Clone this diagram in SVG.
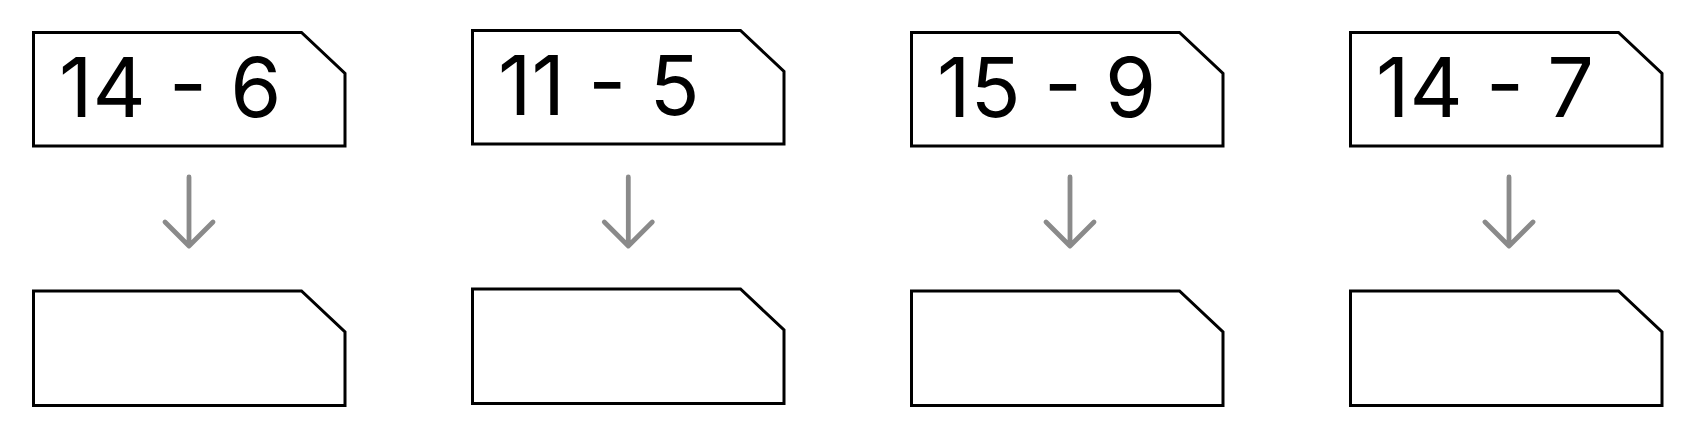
<svg xmlns="http://www.w3.org/2000/svg" width="1696" height="445" viewBox="0 0 1696 445">
<style>
.box{fill:#fff;stroke:#000;stroke-width:3;stroke-linejoin:miter}
.lbl{font-family:Inter,"Noto Sans",sans-serif;font-size:82.5px;fill:#000}
.arr{fill:none;stroke:#8a8a8a;stroke-width:4.8;stroke-linecap:round;stroke-linejoin:round}
</style>
<rect width="1696" height="445" fill="#fff"/>
<g id="q1">
<path class="box" d="M33.5 32.5H301.5L345 73.5V146H33.5Z"/>
<text class="lbl" x="59" y="117">14 - 6</text>
</g>
<g id="a1">
<path class="box" d="M33.5 291H301.5L345 332V405.5H33.5Z"/>
</g>
<g id="q2">
<path class="box" d="M472.5 30.5H740.5L784 71.5V144H472.5Z"/>
<text class="lbl" x="498" y="115.3">11 - 5</text>
</g>
<g id="a2">
<path class="box" d="M472.5 289H740.5L784 330V403.5H472.5Z"/>
</g>
<g id="q3">
<path class="box" d="M911.5 32.5H1179.5L1223 73.5V146H911.5Z"/>
<text class="lbl" x="937" y="117">15 - 9</text>
</g>
<g id="a3">
<path class="box" d="M911.5 291H1179.5L1223 332V405.5H911.5Z"/>
</g>
<g id="q4">
<path class="box" d="M1350.5 32.5H1618.5L1662 73.5V146H1350.5Z"/>
<text class="lbl" x="1376" y="117">14 - 7</text>
</g>
<g id="a4">
<path class="box" d="M1350.5 291H1618.5L1662 332V405.5H1350.5Z"/>
</g>
<g id="connectors">
<path class="arr" d="M189 177V246M165 222L189 246L213 222"/>
<path class="arr" d="M628.3 177V246M604.3 222L628.3 246L652.3 222"/>
<path class="arr" d="M1070 177V246M1046 222L1070 246L1094 222"/>
<path class="arr" d="M1509 177V246M1485 222L1509 246L1533 222"/>
</g>
</svg>
